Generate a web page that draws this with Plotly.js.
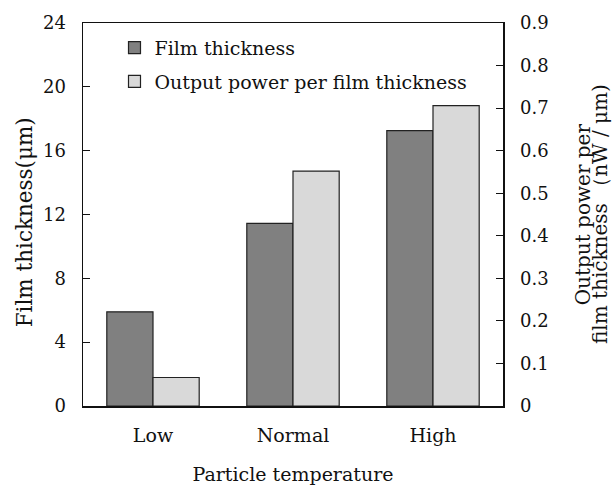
<!DOCTYPE html>
<html>
<head>
<meta charset="utf-8">
<script src="https://cdn.plot.ly/plotly-3.0.1.min.js"></script>
<style>html,body{margin:0;padding:0;background:#fff;}</style>
</head>
<body>
<div id="chart" style="width:615px;height:485px;"></div>
<script>
const categories = ["Low", "Normal", "High"];
const filmThickness = [5.9, 11.45, 17.25];
const outputPerThickness = [0.067, 0.552, 0.706];
const seriesNames = ["Film thickness", "Output power per film thickness"];
const leftTicks = [0, 4, 8, 12, 16, 20, 24];
const rightTicks = [0, 0.1, 0.2, 0.3, 0.4, 0.5, 0.6, 0.7, 0.8, 0.9];
const leftTitle = "Film thickness(μm)";
const rightTitleLines = ["Output power per", "film thickness （nW / μm)"];
const xTitle = "Particle temperature";

const FONT = "DejaVu Serif, Liberation Serif, serif";

const traces = [
  {
    type: "bar", x: categories, y: filmThickness, name: seriesNames[0],
    yaxis: "y", offsetgroup: "a", legendgroup: "a",
    marker: {color: "#808080", line: {color: "#222", width: 1.2}}
  },
  {
    type: "bar", x: categories, y: outputPerThickness, name: seriesNames[1],
    yaxis: "y2", offsetgroup: "b", legendgroup: "b",
    marker: {color: "#d9d9d9", line: {color: "#222", width: 1.2}}
  }
];

const titleFont = {family: FONT, size: 20, color: "#111"};

const layout = {
  width: 615, height: 485,
  margin: {l: 83, r: 112, t: 23, b: 79},
  paper_bgcolor: "#fff", plot_bgcolor: "#fff",
  font: {family: FONT, size: 18, color: "#111"},
  barmode: "group", bargap: 0.34, bargroupgap: 0,
  showlegend: true,
  legend: {x: 0.075, y: 0.985, xanchor: "left", yanchor: "top",
           bgcolor: "rgba(0,0,0,0)", font: {family: FONT, size: 19},
           itemwidth: 30, tracegroupgap: 6},
  xaxis: {
    showline: true, linecolor: "#111", linewidth: 1.5, mirror: true,
    ticks: "", showgrid: false, zeroline: false,
    ticklabelstandoff: 12, tickfont: {size: 19},
    title: {text: xTitle, standoff: 26, font: {family: FONT, size: 19}}
  },
  yaxis: {
    range: [0, 24], tickvals: leftTicks, ticktext: leftTicks.map(String),
    showline: true, linecolor: "#111", linewidth: 1.5,
    ticks: "inside", ticklen: 7, tickcolor: "#111",
    showgrid: false, zeroline: false, ticklabelstandoff: 12, tickfont: {size: 18}
  },
  yaxis2: {
    overlaying: "y", side: "right", range: [0, 0.9],
    tickvals: rightTicks, ticktext: rightTicks.map(v => v === 0 ? "0" : v.toFixed(1)),
    showline: true, linecolor: "#111", linewidth: 1.5,
    ticks: "inside", ticklen: 7, tickcolor: "#111",
    showgrid: false, zeroline: false, ticklabelstandoff: 12, tickfont: {size: 18}
  },
  annotations: [
    {text: leftTitle, textangle: -90, xref: "paper", yref: "paper",
     x: -0.14, y: 0.48, xanchor: "center", yanchor: "middle", showarrow: false,
     font: {family: FONT, size: 21.5, color: "#111"}},
    {text: rightTitleLines[0], textangle: -90, xref: "paper", yref: "paper",
     x: 1.19, y: 0.5, xanchor: "center", yanchor: "middle", showarrow: false,
     font: titleFont},
    {text: rightTitleLines[1], textangle: -90, xref: "paper", yref: "paper",
     x: 1.23, y: 0.5, xanchor: "center", yanchor: "middle", showarrow: false,
     font: titleFont}
  ]
};

Plotly.newPlot("chart", traces, layout, {displayModeBar: false, staticPlot: true});
</script>
</body>
</html>
